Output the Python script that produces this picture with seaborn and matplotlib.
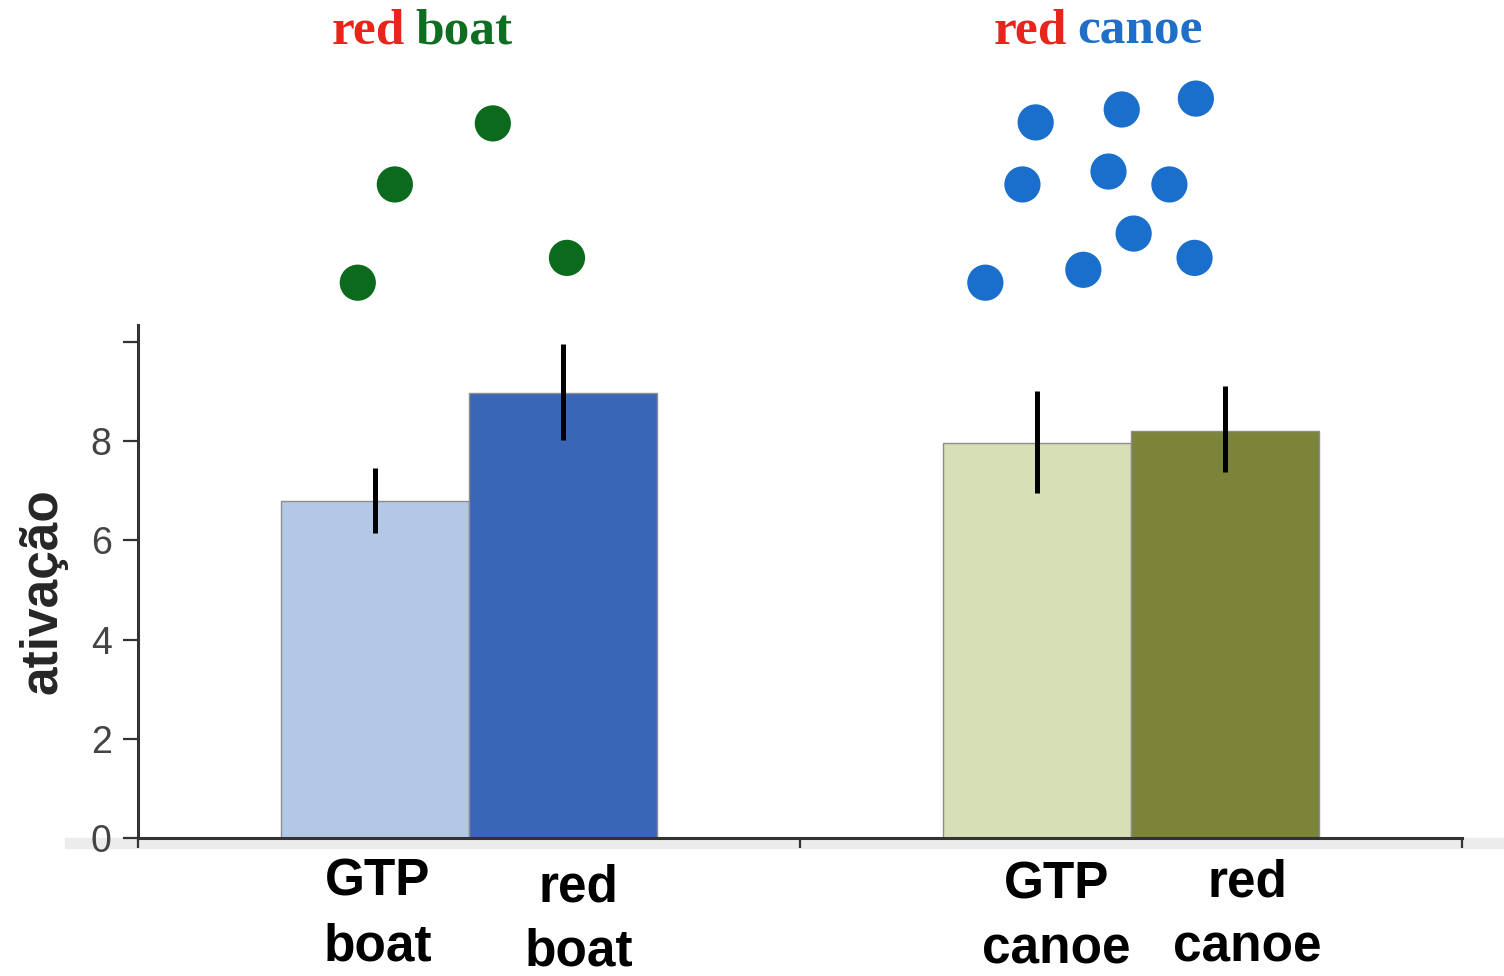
import matplotlib
matplotlib.use("Agg")
import matplotlib.pyplot as plt
from matplotlib.patches import Rectangle
import pandas as pd
import seaborn as sns

# ---- data ------------------------------------------------------------------
groups = ["boat", "canoe"]
conditions = ["GTP", "red"]
values = {"GTP": [6.8, 7.95], "red": [8.97, 8.2]}
err_low = {"GTP": [6.15, 6.95], "red": [8.02, 7.38]}
err_high = {"GTP": [7.45, 9.0], "red": [9.95, 9.1]}
bar_labels = {"GTP": ["GTP\nboat", "GTP\ncanoe"], "red": ["red\nboat", "red\ncanoe"]}

yticks = [0, 2, 4, 6, 8, 10]
ytick_labels = ["0", "2", "4", "6", "8", ""]

green_dot_x = [-0.168, -0.112, 0.036, 0.148]
green_dot_y = [11.19, 13.17, 14.40, 11.69]
blue_dot_x = [0.856, 0.986, 1.098, 0.836, 0.966, 1.058, 1.004, 1.096, 0.780, 0.928]
blue_dot_y = [14.42, 14.68, 14.90, 13.17, 13.43, 13.17, 12.18, 11.69, 11.19, 11.45]

titles = [("red", "boat"), ("red", "canoe")]

# ---- styles ------------------------------------------------------------------
bar_colors = {"GTP": ["#b3c8e6", "#d7dfb6"], "red": ["#3a66b8", "#7c843a"]}
title_colors = ["#0f6e22", "#1f6fc8"]
red_word = "#e8241c"
green_dot = "#0c6a1c"
blue_dot = "#1b6fcc"
axis_color = "#333333"
label_dx = {"GTP": [2, 14], "red": [11, 16]}  # points, nudges of the bottom labels
label_dy = {"GTP": [-14, -16], "red": [-18, -15]}

sns.set_theme(style="white")
plt.rcParams["font.family"] = ["Liberation Sans", "DejaVu Sans"]

df = pd.DataFrame(
    [(g, c, values[c][i]) for c in conditions for i, g in enumerate(groups)],
    columns=["group", "cond", "value"],
)

fig = plt.figure(figsize=(15.04, 9.76), dpi=100)
ax = fig.add_axes([138 / 1504, 138 / 976, 1324 / 1504, 838 / 976])

sns.barplot(
    data=df, x="group", y="value", hue="cond", order=groups, hue_order=conditions,
    width=0.569, gap=0, errorbar=None, legend=False, ax=ax,
    edgecolor="#8d8d8d", linewidth=1.0,
)

# recolour each bar and add the asymmetric error bars + bottom labels
for cond, cont in zip(conditions, ax.containers):
    for i, bar in enumerate(cont):
        bar.set_facecolor(bar_colors[cond][i])
        xc = bar.get_x() + bar.get_width() / 2
        v = values[cond][i]
        ax.errorbar(xc, v, yerr=[[v - err_low[cond][i]], [err_high[cond][i] - v]],
                    fmt="none", ecolor="black", elinewidth=3.6, capsize=0, zorder=5)
        ax.annotate(bar_labels[cond][i], xy=(xc, 0), xycoords="data",
                    xytext=(label_dx[cond][i], label_dy[cond][i]),
                    textcoords="offset points",
                    ha="center", va="top", fontsize=37, fontweight="bold",
                    linespacing=1.42, color="black", annotation_clip=False)

# dots above the bars
sns.scatterplot(x=green_dot_x, y=green_dot_y, color=green_dot, s=680,
                edgecolor="none", ax=ax, clip_on=False)
sns.scatterplot(x=blue_dot_x, y=blue_dot_y, color=blue_dot, s=680,
                edgecolor="none", ax=ax, clip_on=False)

# coloured titles over each group
for gi, (w1, w2) in enumerate(titles):
    xs = gi - 0.097
    ax.text(xs, 16.0, w1, ha="right", va="baseline", fontsize=37, fontweight="bold",
            family="Liberation Serif", color=red_word)
    ax.text(xs + 0.016, 16.0, w2, ha="left", va="baseline", fontsize=37,
            fontweight="bold", family="Liberation Serif", color=title_colors[gi])

ax.set_xlim(-0.5, 1.5)
ax.set_ylim(0, 838 / 49.625)
ax.set_yticks(yticks)
ax.set_yticklabels(ytick_labels)
ax.set_xticks([-0.5, 0.5, 1.5])
ax.set_xticklabels([])
ax.set_xlabel("")
ax.set_ylabel("ativação", fontsize=37, fontweight="bold", va="center")
ax.yaxis.set_label_coords(-0.072, 0.295)

for side in ["top", "right"]:
    ax.spines[side].set_visible(False)
for side in ["left", "bottom"]:
    ax.spines[side].set_color(axis_color)
    ax.spines[side].set_linewidth(2.2)
ax.spines["left"].set_bounds(0, 10.34)
ax.tick_params(axis="y", direction="out", length=11, width=1.6, color=axis_color,
               labelsize=27, labelcolor="#444444", pad=8, left=True)
ax.tick_params(axis="x", direction="out", length=7, width=1.6, color=axis_color,
               bottom=True)
ax.patch.set_alpha(0)

# faint grey strip under the x axis seen in the source image
fig.patches.append(Rectangle((65 / 1504, 128 / 976), 1439 / 1504, 10 / 976,
                             transform=fig.transFigure, color="#ececec", zorder=-5))

fig.savefig("out.png", dpi=100)
